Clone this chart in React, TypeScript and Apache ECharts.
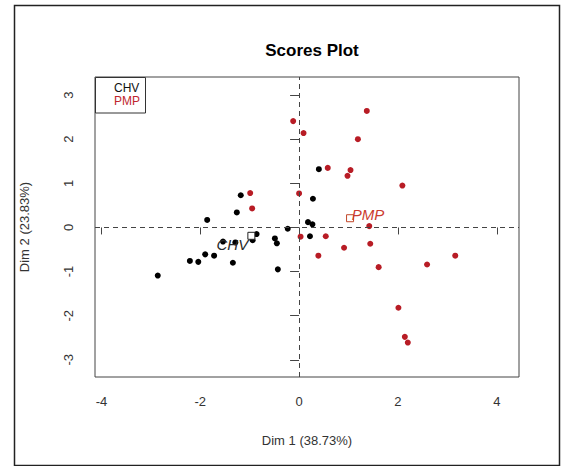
import React, { useEffect, useRef } from "react";
import * as echarts from "echarts";

const chvX = [-1.18, -1.26, -1.86, 0.40, 0.28, -0.23, 0.18, 0.27, 0.22, -0.86, -0.94, -1.29, -1.54, -0.49, -0.45, -1.90, -1.72, -2.21, -2.04, -1.34, -0.43, -2.86];
const chvY = [0.73, 0.34, 0.17, 1.32, 0.65, -0.03, 0.12, 0.07, -0.20, -0.15, -0.29, -0.34, -0.32, -0.25, -0.36, -0.61, -0.64, -0.76, -0.78, -0.80, -0.95, -1.09];
const pmpX = [-0.12, 0.09, 0.00, -0.99, -0.95, 1.37, 1.19, 0.58, 1.04, 0.98, 2.09, 1.42, 0.03, 0.54, 0.39, 0.91, 1.44, 1.61, 2.59, 3.16, 2.01, 2.14, 2.20];
const pmpY = [2.41, 2.14, 0.77, 0.78, 0.43, 2.64, 2.00, 1.35, 1.30, 1.17, 0.95, 0.03, -0.21, -0.20, -0.64, -0.46, -0.37, -0.90, -0.84, -0.64, -1.82, -2.48, -2.61];
const groups = ["CHV", "PMP"];
const xTicks = [-4, -2, 0, 2, 4];
const yTicks = [-3, -2, -1, 0, 1, 2, 3];
const title = "Scores Plot";
const xName = "Dim 1 (38.73%)";
const yName = "Dim 2 (23.83%)";

const FONT = "'Liberation Sans', Arial, sans-serif";
const mean = (a: number[]) => a.reduce((s, v) => s + v, 0) / a.length;

export default function App() {
  const ref = useRef<HTMLDivElement>(null);
  useEffect(() => {
    if (!ref.current) return;
    const chart = echarts.init(ref.current, null, { renderer: "svg" });
    const chvData = chvX.map((x, i) => [x, chvY[i]]);
    const pmpData = pmpX.map((x, i) => [x, pmpY[i]]);
    const chvC = [mean(chvX), mean(chvY)];
    const pmpC = [mean(pmpX), mean(pmpY)];
    chart.setOption({
      animation: false,
      backgroundColor: "#fff",
      title: {
        text: title,
        left: 307,
        textAlign: "center",
        top: 37,
        textStyle: { fontFamily: FONT, fontSize: 17, fontWeight: "bold", color: "#000" },
      },
      grid: { left: 95, top: 77, width: 424, height: 300, show: true, borderColor: "#444", borderWidth: 1, backgroundColor: "transparent" },
      xAxis: {
        type: "value",
        min: -4.13,
        max: 4.45,
        axisLine: { show: false },
        splitLine: { show: false },
        axisTick: { show: true, inside: false, length: 7, lineStyle: { color: "#444" }, customValues: xTicks },
        axisLabel: { customValues: xTicks, margin: 18, fontFamily: FONT, fontSize: 13, color: "#333" },
        name: xName,
        nameLocation: "middle",
        nameGap: 57,
        nameTextStyle: { fontFamily: FONT, fontSize: 13, color: "#333" },
      },
      yAxis: {
        type: "value",
        min: -3.39,
        max: 3.41,
        axisLine: { show: false },
        splitLine: { show: false },
        axisTick: { show: true, inside: false, length: 9, lineStyle: { color: "#444" }, customValues: yTicks },
        axisLabel: { customValues: yTicks, rotate: 90, margin: 20, fontFamily: FONT, fontSize: 13, color: "#333" },
        name: yName,
        nameLocation: "middle",
        nameGap: 64,
        nameTextStyle: { fontFamily: FONT, fontSize: 13, color: "#333" },
      },
      graphic: [
        { type: "rect", shape: { x: 14.5, y: 5.5, width: 545, height: 460 }, style: { fill: "none", stroke: "#222", lineWidth: 1.5 }, silent: true },
        { type: "rect", shape: { x: 95.5, y: 77.5, width: 50, height: 35.5 }, style: { fill: "#fff", stroke: "#333", lineWidth: 1 }, z: 10 },
        { type: "text", x: 114, y: 82, style: { text: groups[0], fill: "#111", font: `12px ${FONT}`, textVerticalAlign: "top" }, z: 11 },
        { type: "text", x: 114, y: 95, style: { text: groups[1], fill: "#c0262e", font: `12px ${FONT}`, textVerticalAlign: "top" }, z: 11 },
      ],
      series: [
        {
          name: groups[0],
          type: "scatter",
          data: chvData,
          symbolSize: 6,
          itemStyle: { color: "#000", opacity: 1 },
          markLine: {
            silent: true,
            symbol: "none",
            label: { show: false },
            lineStyle: { color: "#444", type: [5, 4], width: 1 },
            data: [{ xAxis: 0 }, { yAxis: 0 }],
          },
        },
        {
          name: groups[1],
          type: "scatter",
          data: pmpData,
          symbolSize: 6,
          itemStyle: { color: "#b81c25", opacity: 1 },
        },
        {
          type: "scatter",
          data: [chvC],
          symbol: "rect",
          symbolSize: 7,
          itemStyle: { color: "#fff", borderColor: "#222", borderWidth: 1, opacity: 1 },
          label: {
            show: true,
            formatter: groups[0],
            position: "inside",
            offset: [-19, 9],
            fontFamily: FONT,
            fontStyle: "italic",
            fontSize: 15,
            color: "#2a2a2a",
          },
          z: 5,
        },
        {
          type: "scatter",
          data: [pmpC],
          symbol: "rect",
          symbolSize: 7,
          itemStyle: { color: "#fff", borderColor: "#c2482b", borderWidth: 1, opacity: 1 },
          label: {
            show: true,
            formatter: groups[1],
            position: "inside",
            offset: [18, -4],
            fontFamily: FONT,
            fontStyle: "italic",
            fontSize: 15,
            color: "#cc3b2e",
          },
          z: 5,
        },
      ],
    });
    return () => chart.dispose();
  }, []);
  return <div ref={ref} style={{ position: "fixed", left: 0, top: 0, width: 561, height: 466 }} />;
}
